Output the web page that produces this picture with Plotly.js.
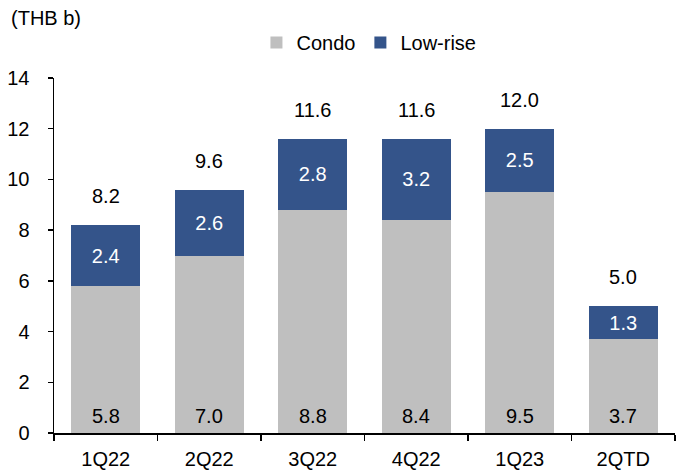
<!DOCTYPE html>
<html><head><meta charset="utf-8">
<script src="https://cdn.plot.ly/plotly-3.0.1.min.js"></script>
<style>body{margin:0;background:#fff}#c{width:681px;height:472px}</style>
</head><body><div id="c"></div>
<script>
const categories = ['1Q22','2Q22','3Q22','4Q22','1Q23','2QTD'];
const condo = [5.8, 7.0, 8.8, 8.4, 9.5, 3.7];
const lowRise = [2.4, 2.6, 2.8, 3.2, 2.5, 1.3];
const totals = [8.2, 9.6, 11.6, 11.6, 12.0, 5.0];
const yTicks = [0,2,4,6,8,10,12,14];

const F = 'Liberation Sans, Arial, sans-serif';
const FS = 20;
const traces = [
  {type:'bar', name:'Condo', x:categories, y:condo, marker:{color:'#BFBFBF'}, hoverinfo:'none'},
  {type:'bar', name:'Low-rise', x:categories, y:lowRise, marker:{color:'#34548A'},
   text:lowRise.map(v=>v.toFixed(1)), textposition:'inside', insidetextanchor:'middle', constraintext:'none',
   textfont:{color:'#ffffff', size:FS, family:F}, hoverinfo:'none'}
];
const annotations = [];
categories.forEach((c,i)=>{
  annotations.push({x:c, y:totals[i], text:totals[i].toFixed(1), showarrow:false, yanchor:'bottom', yshift:16,
    font:{size:FS, color:'#000', family:F}});
  annotations.push({x:c, y:0, text:condo[i].toFixed(1), showarrow:false, yanchor:'bottom', yshift:4,
    font:{size:FS, color:'#000', family:F}});
});
annotations.push({xref:'paper', yref:'paper', x:-0.072, y:1.169, xanchor:'left', yanchor:'middle',
  text:'(THB b)', showarrow:false, font:{size:FS, color:'#000', family:F}});

const layout = {
  width:681, height:472, barmode:'stack', bargap:0.33,
  margin:{l:54, r:6, t:78, b:39},
  paper_bgcolor:'#fff', plot_bgcolor:'#fff',
  font:{family:F, size:FS, color:'#000'},
  showlegend:true,
  legend:{orientation:'h', x:0.326, y:1.10, xanchor:'left', yanchor:'middle', font:{size:FS, family:F},
    itemwidth:30, traceorder:'normal', borderwidth:0},
  xaxis:{type:'category', showline:true, linecolor:'#000', linewidth:1.5, ticks:'outside', tickson:'boundaries',
    ticklen:6, tickcolor:'#000', tickwidth:1.5, showgrid:false, tickfont:{size:FS}, ticklabelstandoff:7},
  yaxis:{range:[0,14], tickvals:yTicks, showline:true, linecolor:'#000', linewidth:1.5, ticks:'outside',
    ticklen:5, tickcolor:'#000', tickwidth:1.5, showgrid:false, zeroline:false, tickfont:{size:FS}, ticklabelstandoff:14},
  annotations:annotations
};
Plotly.newPlot('c', traces, layout, {staticPlot:true});
</script></body></html>
